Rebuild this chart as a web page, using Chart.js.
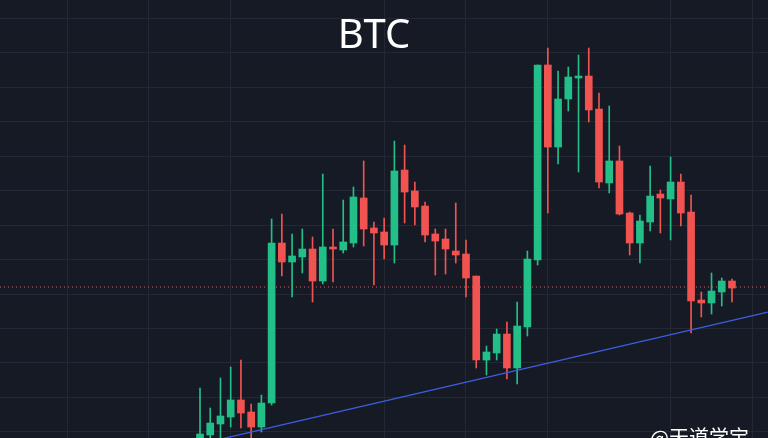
<!DOCTYPE html>
<html lang="zh-CN">
<head>
<meta charset="utf-8">
<title>BTC</title>
<script src="https://cdn.jsdelivr.net/npm/chart.js@4.4.1/dist/chart.umd.min.js"></script>
<style>
  html, body { margin: 0; padding: 0; background: #161a25; overflow: hidden; }
  #wrap { position: relative; width: 768px; height: 438px; }
  #title {
    position: absolute; top: 9px; left: 274px; width: 200px;
    text-align: center; color: #ffffff;
    font: 40px "Noto Sans", sans-serif; line-height: 1.2;
  }
  #mark {
    position: absolute; top: 427px; left: 650px;
    color: #ffffff; font: 20px "Noto Sans CJK SC", sans-serif; line-height: 1;
    white-space: nowrap;
  }
</style>
</head>
<body>
<div id="wrap">
  <canvas id="chart" width="768" height="438"></canvas>
  <div id="title">BTC</div>
  <div id="mark">@天道学宝</div>
</div>
<script>
// candle slots (time index), one per bar
const candleTimes = [
  1, 2, 3, 4, 5, 6, 7, 8, 9, 10, 11, 12, 13, 14, 15, 16, 17, 18, 19, 20,
  21, 22, 23, 24, 25, 26, 27, 28, 29, 30, 31, 32, 33, 34, 35, 36, 37, 38, 39, 40,
  41, 42, 43, 44, 45, 46, 47, 48, 49, 50, 51, 52, 53
];
const openPrices = [
  25855, 25957, 26116, 26217, 26464, 26290, 26072, 26420, 28739, 28464,
  28536, 28652, 28188, 28681, 28638, 28739, 29391, 28957, 28899, 28710,
  29797, 29493, 29275, 28870, 28797, 28623, 28580, 28261, 27043, 27145,
  27420, 26928, 27522, 28493, 31319, 30130, 30826, 31130, 31159, 30681,
  29609, 29928, 29174, 28739, 29043, 29449, 29377, 29623, 29188, 27913,
  27870, 28029, 28188
];
const highPrices = [
  26638, 26348, 26783, 26942, 27043, 26406, 26536, 29087, 29159, 28870,
  28942, 28826, 29739, 28942, 29362, 29551, 29928, 29043, 29101, 30217,
  30159, 29623, 29333, 28942, 28942, 29319, 28783, 28261, 27246, 27493,
  27594, 27884, 28623, 31319, 31565, 31232, 31290, 31464, 31565, 30913,
  30725, 30145, 29188, 29145, 29855, 29507, 29986, 29739, 29435, 28029,
  28304, 28232, 28217
];
const lowPrices = [
  25797, 25913, 25870, 26072, 26058, 25884, 26000, 26391, 28261, 27957,
  28304, 27884, 28145, 28174, 28594, 28681, 28696, 28130, 28507, 28449,
  29029, 29000, 28754, 28275, 28290, 28449, 27957, 26928, 26826, 27043,
  26768, 26696, 27391, 28420, 29174, 29884, 30652, 29768, 30493, 29536,
  29464, 29145, 28565, 28449, 28913, 28884, 28783, 28986, 27435, 27667,
  27710, 27826, 27884
];
const closePrices = [
  25971, 26130, 26232, 26464, 26275, 26072, 26420, 28739, 28464, 28551,
  28652, 28188, 28681, 28652, 28754, 29406, 28942, 28884, 28710, 29783,
  29478, 29261, 28855, 28768, 28652, 28565, 28232, 27043, 27159, 27420,
  26928, 27536, 28507, 31319, 30130, 30826, 31145, 31159, 30667, 29623,
  29928, 29159, 28739, 29058, 29420, 29391, 29623, 29174, 27899, 27870,
  28043, 28188, 28087
];

// grid positions
const gridTimes = [-12, -4, 4, 19, 27, 35, 47, 55];
const gridPrices = [
  26000, 26500, 27000, 27500, 28000, 28500, 29000,
  29500, 30000, 30500, 31000, 31500, 32000
];

// last price marker and support trend line
const lastPrice = 28101;
const trendTimes = [0, 56.5];
const trendPrices = [25793, 27737];

const UP = '#22bf88';
const DOWN = '#f05350';

/** Colour of a candle from its open and close. */
function candleColor(i) {
  return closePrices[i] >= openPrices[i] ? UP : DOWN;
}

/** Builds body and wick datasets as floating bars. */
function buildCandles() {
  const bodies = candleTimes.map((t, i) => ({ x: t, y: [openPrices[i], closePrices[i]] }));
  const wicks = candleTimes.map((t, i) => ({ x: t, y: [lowPrices[i], highPrices[i]] }));
  const colors = candleTimes.map((t, i) => candleColor(i));
  return [
    {
      type: 'bar', data: bodies, backgroundColor: colors,
      barThickness: 7, grouped: false, borderWidth: 0, order: 1,
    },
    {
      type: 'bar', data: wicks, backgroundColor: colors,
      barThickness: 1, grouped: false, borderWidth: 0, order: 2,
    },
  ];
}

const xMin = -18.55;
const xMax = 56.52;

const datasets = [
  {
    type: 'line',
    data: trendTimes.map((t, i) => ({ x: t, y: trendPrices[i] })),
    borderColor: '#3c5ee0', borderWidth: 1.3, pointRadius: 0, order: 0,
  },
  ...buildCandles(),
  {
    type: 'line',
    data: [{ x: xMin, y: lastPrice }, { x: xMax, y: lastPrice }],
    borderColor: 'rgba(240, 100, 105, 0.9)', borderWidth: 1,
    borderDash: [1, 3], pointRadius: 0, order: 3,
  },
];

const gridStyle = { color: '#242836', lineWidth: 1, drawTicks: false };

/* global Chart */
new Chart(document.getElementById('chart'), {
  data: { datasets },
  options: {
    responsive: false,
    animation: false,
    layout: { padding: 0 },
    plugins: { legend: { display: false }, tooltip: { enabled: false } },
    scales: {
      x: {
        type: 'linear', min: xMin, max: xMax, offset: false,
        grid: { ...gridStyle, offset: false }, border: { display: false },
        ticks: { display: false },
        afterBuildTicks: (scale) => { scale.ticks = gridTimes.map((v) => ({ value: v })); },
      },
      y: {
        type: 'linear', min: 25913, max: 32261,
        grid: gridStyle, border: { display: false },
        ticks: { display: false },
        afterBuildTicks: (scale) => { scale.ticks = gridPrices.map((v) => ({ value: v })); },
      },
    },
  },
});
</script>
</body>
</html>
